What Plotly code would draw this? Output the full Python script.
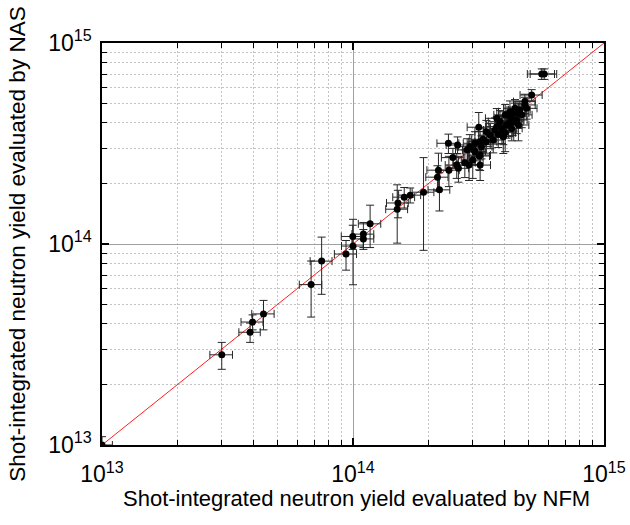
import plotly.graph_objects as go

# Values in units of 1e14 neutrons
nfm = [0.100, 0.300, 0.389, 0.398, 0.440, 0.681, 0.750, 0.938, 1.00, 0.998, 1.10, 1.10, 1.17,
       1.50, 1.51, 1.60, 1.69, 1.91, 2.21, 2.19, 2.41, 2.17, 2.40, 2.61, 2.50, 2.63, 2.79,
       2.90, 3.00, 3.03, 3.18, 3.17, 3.30, 3.40, 3.25, 3.52, 3.68, 3.74, 3.85, 3.92, 4.04,
       4.09, 4.22, 4.33, 4.42, 4.49, 4.62, 4.70, 4.84, 4.92, 3.62, 3.79, 3.97, 4.56, 4.29,
       3.21, 3.06, 2.92, 2.85, 5.15, 5.65, 5.78, 2.59, 3.21, 3.21, 4.04, 4.22, 4.42, 4.84,
       4.16, 4.36, 3.97, 3.74, 3.40, 4.56, 3.06]
nas = [0.100, 0.281, 0.364, 0.409, 0.449, 0.628, 0.822, 0.891, 0.977, 1.09, 1.12, 1.06, 1.26,
       1.49, 1.60, 1.71, 1.75, 1.81, 1.86, 2.33, 2.33, 2.15, 3.17, 3.11, 2.69, 2.38, 2.54,
       2.47, 2.62, 2.94, 2.74, 3.81, 3.32, 3.23, 3.05, 3.48, 3.69, 4.22, 4.06, 3.76, 3.58,
       3.91, 4.30, 4.06, 4.47, 4.14, 4.65, 4.39, 4.92, 4.73, 3.29, 3.52, 3.42, 3.91, 3.76,
       3.23, 3.17, 3.05, 2.94, 5.51, 7.01, 7.01, 2.47, 2.77, 2.47, 4.39, 4.55, 4.73, 5.11,
       3.98, 4.14, 3.62, 3.84, 3.62, 4.47, 2.88]
nfm_err = [0.010, 0.031, 0.038, 0.040, 0.045, 0.070, 0.075, 0.095, 0.10, 0.10, 0.11, 0.11, 0.12,
           0.15, 0.15, 0.16, 0.17, 0.19, 0.22, 0.22, 0.24, 0.22, 0.24, 0.26, 0.25, 0.26, 0.28,
           0.29, 0.30, 0.30, 0.32, 0.32, 0.33, 0.34, 0.33, 0.35, 0.37, 0.37, 0.39, 0.39, 0.40,
           0.41, 0.42, 0.43, 0.44, 0.45, 0.46, 0.47, 0.48, 0.49, 0.36, 0.38, 0.40, 0.46, 0.43,
           0.32, 0.31, 0.29, 0.29, 0.52, 0.70, 0.70, 0.26, 0.32, 0.32, 0.40, 0.42, 0.44, 0.48,
           0.42, 0.44, 0.40, 0.37, 0.34, 0.46, 0.31]
nas_err = [0.010, 0.043, 0.040, 0.035, 0.075, 0.195, 0.26, 0.15, 0.35, 0.15, 0.16, 0.12, 0.30,
           0.48, 0.25, 0.20, 0.15, 0.88, 0.40, 0.50, 0.40, 0.30, 0.35, 0.30, 0.30, 0.35, 0.40,
           0.40, 0.50, 0.35, 0.40, 0.70, 0.45, 0.40, 0.40, 0.50, 0.55, 0.50, 0.55, 0.60, 0.70,
           0.55, 0.50, 0.60, 0.55, 0.60, 0.50, 0.60, 0.45, 0.55, 0.45, 0.50, 0.60, 0.65, 0.50,
           0.40, 0.45, 0.45, 0.40, 0.35, 0.42, 0.42, 0.35, 0.45, 0.40, 0.55, 0.60, 0.50, 0.45,
           0.55, 0.50, 0.50, 0.45, 0.50, 0.55, 0.40]
scale = 1e14

x = [v * scale for v in nfm]
y = [v * scale for v in nas]
xe = [v * scale for v in nfm_err]
ye = [v * scale for v in nas_err]

line_range = [1e13, 1e15]
major_vals = [1e13, 1e14, 1e15]
major_text = ["10<sup>13</sup>", "10<sup>14</sup>", "10<sup>15</sup>"]
minor_vals = [m * 10 ** e for e in (13, 14) for m in range(2, 10)]

FONT = "Liberation Sans, Arial, Helvetica, sans-serif"
X_TITLE = "Shot-integrated neutron yield evaluated by NFM"
Y_TITLE = "Shot-integrated neutron yield evaluated by NAS"

fig = go.Figure()
fig.add_trace(go.Scatter(
    x=line_range, y=line_range, mode="lines",
    line=dict(color="#ff2020", width=1), hoverinfo="skip", showlegend=False))
fig.add_trace(go.Scatter(
    x=x, y=y, mode="markers",
    marker=dict(color="black", size=7, line=dict(width=0)),
    error_x=dict(type="data", array=xe, color="#262626", thickness=1, width=4),
    error_y=dict(type="data", array=ye, color="#262626", thickness=1, width=4),
    showlegend=False))

axis_common = dict(
    type="log",
    automargin=False,
    tickmode="array", tickvals=major_vals, ticktext=major_text,
    ticks="inside", ticklen=7, tickwidth=1.5, tickcolor="black",
    showline=True, linecolor="black", linewidth=1.5, mirror="allticks",
    showgrid=True, gridcolor="#a0a0a0", gridwidth=1,
    zeroline=False,
    tickfont=dict(family=FONT, size=23, color="black"),
    minor=dict(tickmode="array", tickvals=minor_vals, ticks="inside", ticklen=5,
               tickwidth=1.2, tickcolor="black", showgrid=True,
               gridcolor="#c4c4c4", griddash="2px,2px", gridwidth=1),
)

fig.update_layout(
    width=630, height=525,
    margin=dict(l=102, r=26, t=43, b=80),
    paper_bgcolor="white", plot_bgcolor="white",
    font=dict(family=FONT, color="black"),
    xaxis=dict(axis_common, range=[13, 15], ticklabelstandoff=8),
    yaxis=dict(axis_common, range=[13, 15],
               title=dict(text=Y_TITLE, font=dict(family=FONT, size=22.5), standoff=16),
               ticklabelstandoff=4),
    annotations=[dict(
        text=X_TITLE, xref="paper", yref="paper", x=0.5, y=-0.132,
        xshift=3, xanchor="center", yanchor="middle", showarrow=False,
        font=dict(family=FONT, size=22, color="black"))],
)

fig.write_html("out.html")
